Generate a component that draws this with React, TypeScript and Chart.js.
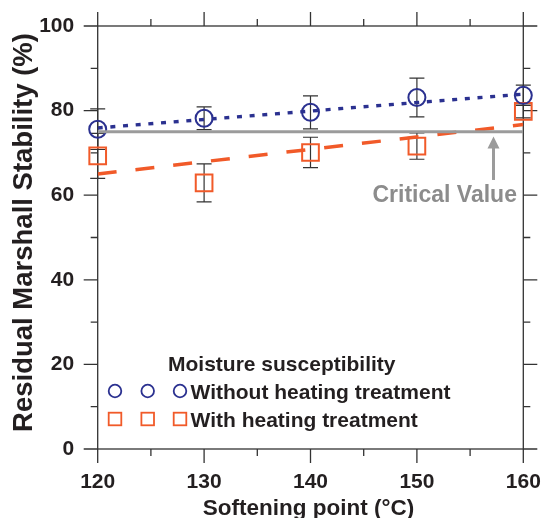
import React, { useEffect, useRef } from "react";
import { Chart, registerables } from "chart.js";

Chart.register(...registerables);

// Softening point (°C) of the binders tested
const softeningPoint = [120, 130, 140, 150, 160];

// Residual Marshall stability (%) and its spread
const withoutHeating = [75.6, 78.2, 79.6, 83.1, 83.6];
const withoutHeatingErr = [4.8, 2.7, 3.9, 4.6, 2.4];
const withHeating = [69.3, 62.9, 70.1, 71.6, 79.8];
const withHeatingErr = [5.3, 4.5, 3.6, 3.1, 1.5];

// Linear trend lines, given at both ends of the axis
const trendX = [120, 160];
const withoutHeatingTrend = [75.9, 83.9];
const withHeatingTrend = [65.0, 76.7];
const criticalValue = [75, 75];

// Axis ticks
const xMajorTicks = [120, 130, 140, 150, 160];
const xMinorTicks = [125, 135, 145, 155];
const yMajorTicks = [0, 20, 40, 60, 80, 100];
const yMinorTicks = [10, 30, 50, 70, 90];

const FONT = "'Liberation Sans', Arial, sans-serif";
const INK = "#231f20";
const BLUE = "#2b3190";
const ORANGE = "#f15a29";
const GRAY = "#9b9b9b";

const toPoints = (xs: number[], ys: number[]) => xs.map((x, i) => ({ x, y: ys[i] }));

const decorations = {
  id: "decorations",
  beforeDatasetsDraw(chart: any) {
    const { ctx, chartArea: a, scales } = chart;
    const x = scales.x;
    const y = scales.y;
    ctx.save();

    // error bars
    ctx.strokeStyle = "#333333";
    ctx.lineWidth = 1.2;
    const bars = (vals: number[], errs: number[]) => {
      softeningPoint.forEach((sp, i) => {
        const px = x.getPixelForValue(sp);
        const top = y.getPixelForValue(vals[i] + errs[i]);
        const bot = y.getPixelForValue(vals[i] - errs[i]);
        ctx.beginPath();
        ctx.moveTo(px, top);
        ctx.lineTo(px, bot);
        ctx.moveTo(px - 7.5, top);
        ctx.lineTo(px + 7.5, top);
        ctx.moveTo(px - 7.5, bot);
        ctx.lineTo(px + 7.5, bot);
        ctx.stroke();
      });
    };
    bars(withoutHeating, withoutHeatingErr);
    bars(withHeating, withHeatingErr);

    // frame with outward ticks on all four sides
    ctx.strokeStyle = "#333333";
    ctx.lineWidth = 1.3;
    ctx.strokeRect(a.left, a.top, a.right - a.left, a.bottom - a.top);
    ctx.beginPath();
    const xt = (vals: number[], len: number) =>
      vals.forEach((v) => {
        const px = x.getPixelForValue(v);
        ctx.moveTo(px, a.bottom);
        ctx.lineTo(px, a.bottom + len);
        ctx.moveTo(px, a.top);
        ctx.lineTo(px, a.top - len);
      });
    const yt = (vals: number[], len: number) =>
      vals.forEach((v) => {
        const py = y.getPixelForValue(v);
        ctx.moveTo(a.left, py);
        ctx.lineTo(a.left - len, py);
        ctx.moveTo(a.right, py);
        ctx.lineTo(a.right + len, py);
      });
    xt(xMajorTicks, 14);
    xt(xMinorTicks, 7);
    yt(yMajorTicks, 14);
    yt(yMinorTicks, 7);
    ctx.stroke();

    // critical value annotation
    const ax = x.getPixelForValue(157.2);
    const tipY = y.getPixelForValue(73.9);
    const tailY = y.getPixelForValue(63.6);
    ctx.strokeStyle = GRAY;
    ctx.fillStyle = GRAY;
    ctx.lineWidth = 3;
    ctx.beginPath();
    ctx.moveTo(ax, tailY);
    ctx.lineTo(ax, tipY + 10);
    ctx.stroke();
    ctx.beginPath();
    ctx.moveTo(ax, tipY);
    ctx.lineTo(ax - 6, tipY + 12);
    ctx.lineTo(ax + 6, tipY + 12);
    ctx.closePath();
    ctx.fill();
    ctx.fillStyle = "#8c8c8c";
    ctx.font = `bold 23px ${FONT}`;
    ctx.textAlign = "left";
    ctx.textBaseline = "alphabetic";
    ctx.fillText("Critical Value", 372.5, 202);

    // axis titles
    ctx.fillStyle = INK;
    ctx.font = `bold 22.5px ${FONT}`;
    ctx.textAlign = "center";
    ctx.fillText("Softening point (°C)", (a.left + a.right) / 2 - 2, 515);
    ctx.save();
    ctx.translate(31.5, 232.5);
    ctx.rotate(-Math.PI / 2);
    ctx.font = `bold 27.5px ${FONT}`;
    ctx.fillText("Residual Marshall Stability (%)", 0, 0);
    ctx.restore();

    ctx.restore();
  },
  afterDraw(chart: any) {
    const { ctx } = chart;
    ctx.save();
    ctx.fillStyle = INK;
    ctx.font = `bold 21px ${FONT}`;
    ctx.textAlign = "left";
    ctx.textBaseline = "alphabetic";
    ctx.fillText("Moisture susceptibility", 168, 370.5);

    const markerX = [115, 147.7, 180];
    ctx.lineWidth = 1.8;
    ctx.strokeStyle = BLUE;
    markerX.forEach((mx) => {
      ctx.beginPath();
      ctx.arc(mx, 391, 6.3, 0, Math.PI * 2);
      ctx.stroke();
    });
    ctx.strokeStyle = ORANGE;
    markerX.forEach((mx) => {
      ctx.strokeRect(mx - 6.3, 419 - 6.3, 12.6, 12.6);
    });
    ctx.fillText("Without heating treatment", 190.5, 398.5);
    ctx.fillText("With heating treatment", 190.5, 426.5);
    ctx.restore();
  },
};

export default function App() {
  const ref = useRef<HTMLCanvasElement | null>(null);

  useEffect(() => {
    if (!ref.current) return;
    const tickFont = { family: FONT, size: 21, weight: "bold" as const };
    const chart = new Chart(ref.current, {
      type: "scatter",
      data: {
        datasets: [
          {
            label: "Critical value",
            data: toPoints(trendX, criticalValue),
            showLine: true,
            borderColor: GRAY,
            borderWidth: 3,
            pointRadius: 0,
          },
          {
            label: "Without heating trend",
            data: toPoints(trendX, withoutHeatingTrend),
            showLine: true,
            borderColor: BLUE,
            borderWidth: 3.4,
            borderDash: [5, 7.7],
            pointRadius: 0,
          },
          {
            label: "With heating trend",
            data: toPoints(trendX, withHeatingTrend),
            showLine: true,
            borderColor: ORANGE,
            borderWidth: 3.5,
            borderDash: [19, 19],
            pointRadius: 0,
          },
          {
            label: "Without heating treatment",
            data: toPoints(softeningPoint, withoutHeating),
            pointStyle: "circle",
            pointRadius: 8.5,
            pointBorderWidth: 2,
            borderColor: BLUE,
            backgroundColor: "rgba(0,0,0,0)",
            clip: false as any,
          },
          {
            label: "With heating treatment",
            data: toPoints(softeningPoint, withHeating),
            pointStyle: "rect",
            pointRadius: 11.8,
            pointBorderWidth: 2,
            borderColor: ORANGE,
            backgroundColor: "rgba(0,0,0,0)",
            clip: false as any,
          },
        ],
      },
      options: {
        animation: false,
        responsive: false,
        maintainAspectRatio: false,
        layout: { padding: { top: 26, right: 19.7, left: 0, bottom: 0 } },
        plugins: { legend: { display: false }, tooltip: { enabled: false } },
        scales: {
          x: {
            type: "linear",
            position: "bottom",
            min: 120,
            max: 160,
            afterBuildTicks: (s: any) => {
              s.ticks = xMajorTicks.map((v) => ({ value: v }));
            },
            afterFit: (s: any) => {
              s.height = 69;
              s.paddingLeft = 0;
              s.paddingRight = 0;
              s.paddingTop = 0;
              s.paddingBottom = 0;
            },
            ticks: { font: tickFont, color: INK, padding: 21 },
            grid: { display: false, drawTicks: false },
            border: { display: false },
          },
          y: {
            type: "linear",
            min: 0,
            max: 100,
            afterBuildTicks: (s: any) => {
              s.ticks = yMajorTicks.map((v) => ({ value: v }));
            },
            afterFit: (s: any) => {
              s.width = 97.7;
              s.paddingLeft = 0;
              s.paddingRight = 0;
              s.paddingTop = 0;
              s.paddingBottom = 0;
            },
            ticks: { font: tickFont, color: INK, padding: 23.5 },
            grid: { display: false, drawTicks: false },
            border: { display: false },
          },
        },
      },
      plugins: [decorations],
    });
    return () => chart.destroy();
  }, []);

  return (
    <div style={{ position: "fixed", left: 0, top: 0, width: 543, height: 518, background: "#fff" }}>
      <canvas ref={ref} width={543} height={518} style={{ display: "block", width: 543, height: 518 }} />
    </div>
  );
}
